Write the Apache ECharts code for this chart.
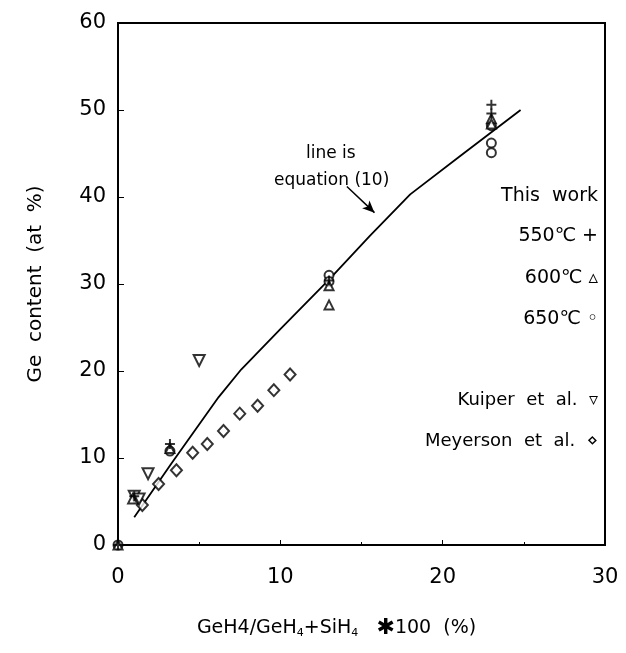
<!DOCTYPE html>
<html>
<head>
<meta charset="utf-8">
<script src="https://cdn.jsdelivr.net/npm/echarts@6/dist/echarts.min.js"></script>
<style>
  html, body { margin: 0; padding: 0; background: #fff; }
  #chart { width: 626px; height: 653px; }
</style>
</head>
<body>
<div id="chart"></div>
<script>
// x ticks / y ticks
const xTicks = [0, 10, 20, 30]
const yTicks = [0, 10, 20, 30, 40, 50, 60]

// this work, [GeH4 ratio %, Ge at %]
const work550 = [[0, 0], [1, 5.6], [3.2, 11.6], [13, 30.4], [23, 50.6], [23, 49.6]]
const work600 = [[0, 0], [0.9, 5.3], [3.2, 11.1], [13, 27.6], [13, 29.8], [23, 49], [23, 48.4]]
const work650 = [[0, 0], [3.2, 10.8], [13, 31], [13, 30.3], [23, 48.2], [23, 46.2], [23, 45.1]]

// literature
const kuiper = [[1, 5.6], [1.3, 5.3], [1.85, 8.2], [5, 21.2]]
const meyerson = [[1.5, 4.6], [2.5, 7], [3.6, 8.6], [4.6, 10.6], [5.5, 11.6], [6.5, 13.1], [7.5, 15.1], [8.6, 16], [9.6, 17.8], [10.6, 19.6]]

// equation (10)
const eqLine = [[1, 3.2], [3.3, 9.4], [6.2, 17], [7.6, 20.2], [10, 24.8], [13, 30.5], [15.5, 35.5], [18, 40.3], [21, 44.6], [24.8, 50]]

const font = 'DejaVu Sans'
const plusPath = 'path://M4,0 L6,0 L6,4 L10,4 L10,6 L6,6 L6,10 L4,10 L4,6 L0,6 L0,4 L4,4 Z'

const chart = echarts.init(document.getElementById('chart'))

const option = {
  animation: false,
  backgroundColor: '#fff',
  textStyle: { fontFamily: font, color: '#000' },
  grid: {
    left: 118,
    right: 21,
    top: 23,
    bottom: 108,
    show: true,
    borderColor: '#000',
    borderWidth: 2
  },
  xAxis: {
    type: 'value',
    min: 0,
    max: 30,
    interval: 10,
    name: '{a|GeH4/GeH}{s|4}{a|+SiH}{s|4}{a|   }{b|✱}{a|100  (%)}',
    nameLocation: 'middle',
    nameGap: 72,
    nameTextStyle: {
      padding: [0, 50, 0, 0],
      rich: {
        a: { fontSize: 19, fontFamily: font, color: '#000' },
        s: { fontSize: 11, fontFamily: font, color: '#000', verticalAlign: 'bottom', padding: [9, 0, 0, 0] },
        b: { fontSize: 22, fontFamily: font, color: '#000' }
      }
    },
    axisLine: { lineStyle: { color: '#000', width: 2 } },
    axisTick: { inside: true, length: 5, lineStyle: { color: '#000' } },
    minorTick: { show: true, splitNumber: 2, length: 3, lineStyle: { color: '#000' } },
    splitLine: { show: false },
    axisLabel: { fontSize: 21, color: '#000', margin: 22, formatter: v => xTicks.includes(v) ? String(v) : '' }
  },
  yAxis: {
    type: 'value',
    min: 0,
    max: 60,
    interval: 10,
    name: 'Ge  content  (at  %)',
    nameLocation: 'middle',
    nameGap: 72,
    nameTextStyle: { fontSize: 20, color: '#000' },
    axisLine: { lineStyle: { color: '#000', width: 2 } },
    axisTick: { inside: true, length: 6, lineStyle: { color: '#000' } },
    splitLine: { show: false },
    axisLabel: { fontSize: 21, color: '#000', margin: 12, formatter: v => yTicks.includes(v) ? String(v) : '' }
  },
  graphic: [
    { type: 'text', left: 306, top: 145, style: { text: 'line is', fontSize: 17, fontFamily: font, fill: '#000' } },
    { type: 'text', left: 274, top: 172, style: { text: 'equation (10)', fontSize: 17, fontFamily: font, fill: '#000' } },
    { type: 'text', right: 28, top: 187, style: { text: 'This  work', fontSize: 19, fontFamily: font, fill: '#000' } },
    { type: 'text', right: 28, top: 227, style: { text: '550℃ +', fontSize: 19, fontFamily: font, fill: '#000' } },
    { type: 'text', right: 28, top: 269, style: { text: '600℃ ▵', fontSize: 19, fontFamily: font, fill: '#000' } },
    { type: 'text', right: 28, top: 310, style: { text: '650℃ ◦', fontSize: 19, fontFamily: font, fill: '#000' } },
    { type: 'text', right: 28, top: 391, style: { text: 'Kuiper  et  al.  ▿', fontSize: 18, fontFamily: font, fill: '#000' } },
    { type: 'text', right: 28, top: 432, style: { text: 'Meyerson  et  al.  ⋄', fontSize: 18, fontFamily: font, fill: '#000' } }
  ],
  series: [
    {
      name: 'equation (10)',
      type: 'line',
      data: eqLine,
      symbol: 'none',
      lineStyle: { color: '#000', width: 1.8 },
      z: 2,
      markLine: {
        silent: true,
        symbol: ['none', 'arrow'],
        symbolSize: [8, 12],
        label: { show: false },
        lineStyle: { color: '#000', width: 1.5, type: 'solid' },
        data: [[{ coord: [14.1, 41.2] }, { coord: [15.8, 38.2] }]]
      }
    },
    {
      name: 'Meyerson et al.',
      type: 'scatter',
      data: meyerson,
      symbol: 'diamond',
      symbolSize: [11, 12],
      itemStyle: { color: '#fff', borderColor: '#000', borderWidth: 2 },
      z: 3
    },
    {
      name: 'Kuiper et al.',
      type: 'scatter',
      data: kuiper,
      symbol: 'triangle',
      symbolRotate: 180,
      symbolSize: 11,
      itemStyle: { color: '#fff', borderColor: '#000', borderWidth: 2 },
      z: 3
    },
    {
      name: '650℃',
      type: 'scatter',
      data: work650,
      symbol: 'circle',
      symbolSize: 9,
      itemStyle: { color: '#fff', borderColor: '#000', borderWidth: 2 },
      z: 4
    },
    {
      name: '600℃',
      type: 'scatter',
      data: work600,
      symbol: 'triangle',
      symbolSize: 9,
      itemStyle: { color: '#fff', borderColor: '#000', borderWidth: 2 },
      z: 5
    },
    {
      name: '550℃',
      type: 'scatter',
      data: work550,
      symbol: plusPath,
      symbolSize: 10,
      itemStyle: { color: '#000' },
      z: 6
    }
  ]
}

chart.setOption(option)
</script>
</body>
</html>
